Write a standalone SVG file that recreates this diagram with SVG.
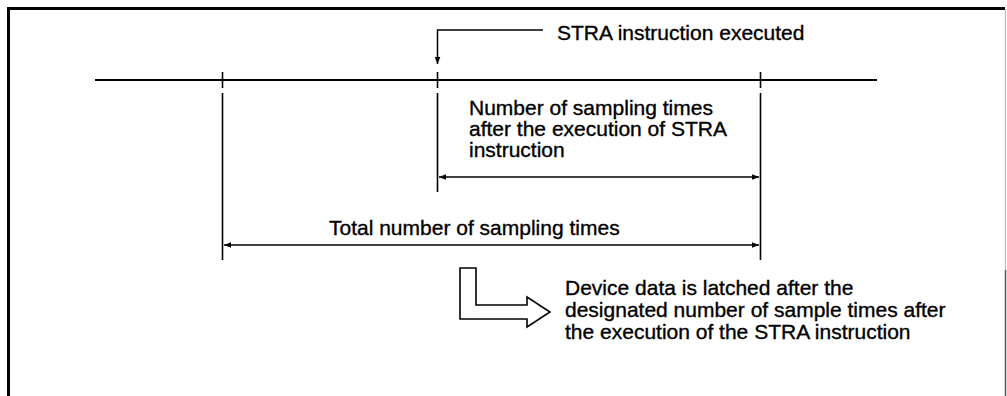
<svg xmlns="http://www.w3.org/2000/svg" width="1007" height="396" viewBox="0 0 1007 396">
<defs>
<style>
.t{font-family:"Liberation Sans",Arial,sans-serif;font-size:21px;fill:#000;stroke:#000;stroke-width:0.35}
.ln{stroke:#000;fill:none}
</style>
<marker id="ah" viewBox="0 0 10 10" refX="10" refY="5" markerWidth="7" markerHeight="7" markerUnits="userSpaceOnUse" orient="auto-start-reverse"><path d="M0,1 L10,5 L0,9 Z" fill="#000"/></marker>
</defs>
<rect x="0" y="0" width="1007" height="396" fill="#fff"/>
<g id="frame">
<path class="ln" d="M8.5,396 V8.5 H1005" stroke-width="3"/>
<path d="M1005.5,9 V270" stroke="#bbb" stroke-width="1.2" fill="none"/>
<path d="M1005.5,270 V396" stroke="#555" stroke-width="1.5" fill="none"/>
</g>
<g id="timeline">
<line class="ln" x1="95" y1="80" x2="877" y2="80" stroke-width="2"/>
</g>
<g id="connectors">
<path class="ln" d="M543,30 H437.5 V64" stroke-width="1.5" marker-end="url(#ah)"/>
<path class="ln" d="M222.5,72 V88 M222.5,93 V260" stroke-width="1.6"/>
<path class="ln" d="M437.5,72 V88 M437.5,93 V192" stroke-width="1.6"/>
<path class="ln" d="M760.5,72 V88 M760.5,93 V260" stroke-width="1.6"/>
<line class="ln" x1="439" y1="177" x2="759" y2="177" stroke-width="1.6" marker-start="url(#ah)" marker-end="url(#ah)"/>
<line class="ln" x1="224" y1="245" x2="759" y2="245" stroke-width="1.6" marker-start="url(#ah)" marker-end="url(#ah)"/>
</g>
<g id="stra-label">
<text class="t" x="557" y="40">STRA instruction executed</text>
</g>
<g id="after-label">
<text class="t" x="469" y="115">Number of sampling times</text>
<text class="t" x="469" y="136">after the execution of STRA</text>
<text class="t" x="469" y="157">instruction</text>
</g>
<g id="total-label">
<text class="t" x="329" y="235">Total number of sampling times</text>
</g>
<g id="latch-arrow">
<path class="ln" d="M460,268 H476 V305 H527 V297 L550,312 L527,327 V319 H460 Z" stroke-width="1.6"/>
</g>
<g id="latch-label">
<text class="t" x="565" y="295">Device data is latched after the</text>
<text class="t" x="565" y="317">designated number of sample times after</text>
<text class="t" x="565" y="339">the execution of the STRA instruction</text>
</g>
</svg>
